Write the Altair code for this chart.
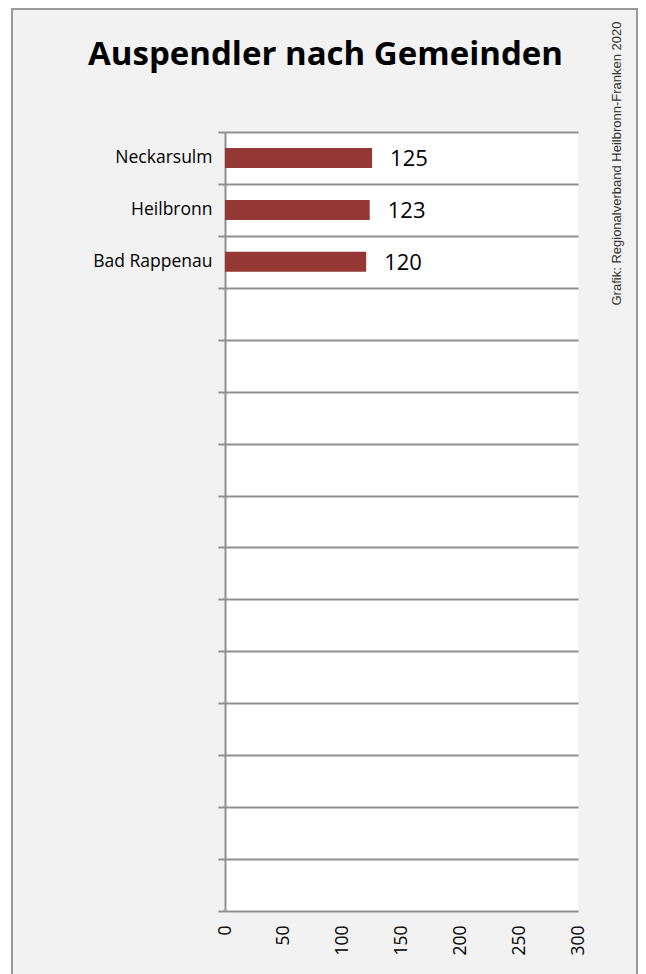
import altair as alt
import pandas as pd

# ---- data ----
names = ["Neckarsulm", "Heilbronn", "Bad Rappenau"]
values = [125, 123, 120]
blank_slots = [" " * k for k in range(1, 13)]  # 12 empty category rows
categories = names + blank_slots
x_ticks = [0, 50, 100, 150, 200, 250, 300]
title_text = "Auspendler nach Gemeinden"
credit_text = "Grafik: Regionalverband Heilbronn-Franken 2020"

W, H = 353, 779
FONT = "Open Sans"
GRID = "#8f8f8f"

df = pd.DataFrame({"Gemeinde": names, "Anzahl": values})
one = pd.DataFrame({"k": [0]})

y_enc = alt.Y(
    "Gemeinde:N",
    sort=categories,
    scale=alt.Scale(domain=categories, paddingInner=0, paddingOuter=0),
    axis=alt.Axis(
        title=None, tickBand="extent", grid=True, gridColor=GRID, gridWidth=2,
        domainColor=GRID, domainWidth=2, tickColor=GRID, tickWidth=2, tickSize=7,
        labelPadding=6, labelFont=FONT, labelFontSize=17.5, labelColor="#000",
    ),
)
x_enc = alt.X(
    "Anzahl:Q",
    scale=alt.Scale(domain=[0, 300], nice=False),
    axis=alt.Axis(
        title=None, values=x_ticks, grid=False, domain=False, ticks=False,
        labelAngle=270, labelPadding=14, labelFont=FONT, labelFontSize=17.5,
        labelColor="#000",
    ),
)

strip = alt.Chart(one).mark_rect(color="white").encode(
    x=alt.value(-217), x2=alt.value(-214), y=alt.value(-124), y2=alt.value(860)
)
frame = alt.Chart(one).mark_rect(fillOpacity=0, stroke="#9a9a9a", strokeWidth=2).encode(
    x=alt.value(-213), x2=alt.value(412), y=alt.value(-123), y2=alt.value(860)
)
bars = alt.Chart(df).mark_bar(size=20, color="#953735").encode(x=x_enc, y=y_enc)
labels = alt.Chart(df).mark_text(
    align="left", baseline="middle", dx=18, dy=1, font=FONT, fontSize=22, color="#000"
).encode(x="Anzahl:Q", y=alt.Y("Gemeinde:N", sort=categories), text="Anzahl:Q")
title = alt.Chart(one).mark_text(
    text=title_text, align="center", baseline="alphabetic", font=FONT,
    fontSize=33, fontWeight="bold", color="#000"
).encode(x=alt.value(100.5), y=alt.value(-67))
credit = alt.Chart(one).mark_text(
    text=credit_text, angle=270, align="center", baseline="middle",
    font="Liberation Sans", fontSize=13, color="#333"
).encode(x=alt.value(392), y=alt.value(31.5))

chart = alt.layer(strip, frame, bars, labels, title, credit).properties(
    width=W, height=H,
    padding={"left": 217, "top": 124, "right": 60, "bottom": 63},
    autosize=alt.AutoSizeParams(type="none"),
    background="#f2f2f2",
).configure_view(fill="white", strokeWidth=0)

chart.save("out.html", embed_options={"renderer": "svg", "actions": False})
